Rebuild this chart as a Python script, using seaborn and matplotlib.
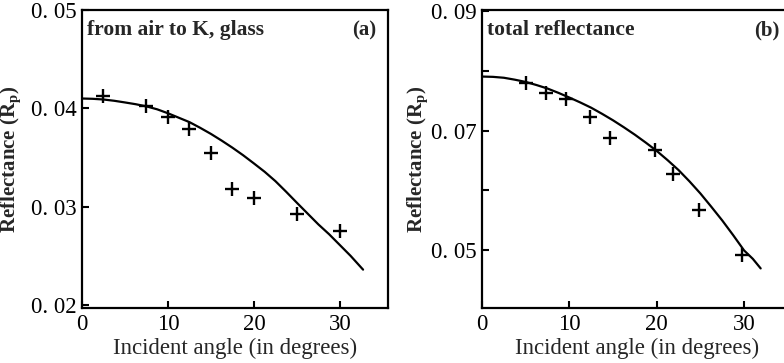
import numpy as np
import pandas as pd
import matplotlib
matplotlib.use("Agg")
import matplotlib.pyplot as plt
import seaborn as sns

# ---- data ----
a_pts_x = [2.5, 7.5, 10, 12.5, 15, 17.5, 20, 25, 30]
a_pts_y = [0.0413, 0.0402, 0.0391, 0.0379, 0.0355, 0.0318, 0.0309, 0.0293, 0.0275]
a_curve_x = [0, 1.25, 2.5, 3.75, 5, 6.25, 7.5, 8.75, 10, 11.25, 12.5, 13.75, 15, 16.25,
             17.5, 18.75, 20, 21.25, 22.5, 23.75, 25, 26.25, 27.5, 28.75, 30, 31.25, 32.7]
a_curve_y = [0.0410, 0.04097, 0.0409, 0.04077, 0.0406, 0.04042, 0.0402, 0.0399, 0.0395,
             0.03905, 0.0386, 0.03802, 0.0374, 0.03672, 0.0360, 0.03523, 0.0344, 0.03355,
             0.0326, 0.03152, 0.0304, 0.0293, 0.0282, 0.0272, 0.0261, 0.0250, 0.0236]

b_pts_x = [5, 7.3, 9.6, 12.4, 14.7, 19.8, 21.9, 24.8, 29.8]
b_pts_y = [0.0779, 0.0762, 0.0752, 0.0722, 0.0687, 0.0667, 0.0628, 0.0567, 0.0493]
b_curve_x = [0, 1.25, 2.5, 3.75, 5, 6.25, 7.5, 8.75, 10, 11.25, 12.5, 13.75, 15, 16.25,
             17.5, 18.75, 20, 21.25, 22.5, 23.75, 25, 26.25, 27.5, 28.75, 30, 31, 31.9]
b_curve_y = [0.0790, 0.07895, 0.0788, 0.07848, 0.0781, 0.07758, 0.0770, 0.07628, 0.0755,
             0.07468, 0.0738, 0.07278, 0.0717, 0.07053, 0.0693, 0.06798, 0.0666, 0.06505,
             0.0634, 0.06152, 0.0595, 0.05728, 0.0550, 0.05255, 0.0500, 0.0486, 0.0470]

x_ticks = [0, 10, 20, 30]
x_ticklabels = ["0", "10", "20", "30"]
a_yticks = [0.02, 0.03, 0.04, 0.05]
a_yticklabels = ["0. 02", "0. 03", "0. 04", "0. 05"]
b_yticks = [0.05, 0.06, 0.07, 0.08, 0.09]
b_yticklabels = ["0. 05", "", "0. 07", "", "0. 09"]

x_label = "Incident angle (in degrees)"
y_label = r"Reflectance (R$_{\mathbf{p}}$)"
a_title = "from air to K, glass"
b_title = "total reflectance"

sns.set_style("ticks")
plt.rcParams["font.family"] = ["Liberation Serif", "DejaVu Serif"]
plt.rcParams["mathtext.fontset"] = "custom"
plt.rcParams["mathtext.rm"] = "Liberation Serif"
plt.rcParams["mathtext.bf"] = "Liberation Serif:bold"

W, H = 784, 363
fig = plt.figure(figsize=(W / 100, H / 100), dpi=100)

def box(l, t, r, b):
    return [l / W, 1 - b / H, (r - l) / W, (b - t) / H]

ax1 = fig.add_axes(box(82, 10, 388, 308))
ax2 = fig.add_axes(box(482, 10, 793, 308))

panels = [
    (ax1, a_pts_x, a_pts_y, a_curve_x, a_curve_y, a_yticks, a_yticklabels, (0.0197, 0.0500),
     a_title, "(a)", -0.19, 0.96),
    (ax2, b_pts_x, b_pts_y, b_curve_x, b_curve_y, b_yticks, b_yticklabels, (0.0404, 0.0901),
     b_title, "(b)", -0.164, 0.955),
]

for ax, px, py, cx, cy, yt, ytl, ylim, title, tag, ylx, tagx in panels:
    sns.lineplot(x=cx, y=cy, ax=ax, color="black", lw=1.6)
    sns.scatterplot(x=px, y=py, ax=ax, marker="+", s=95, color="black", linewidth=1.7)
    ax.set_xlim(0, 35.6)
    ax.set_ylim(*ylim)
    ax.set_xticks(x_ticks)
    ax.set_xticklabels(x_ticklabels)
    ax.set_yticks(yt)
    ax.set_yticklabels(ytl)
    ax.tick_params(direction="in", length=5, width=1.5, labelsize=16.5, pad=4, colors="black")
    for s in ax.spines.values():
        s.set_linewidth(1.6)
        s.set_color("black")
    ax.set_xlabel(x_label, fontsize=16.5)
    ax.set_ylabel(y_label, fontsize=15, fontweight="bold")
    ax.xaxis.set_label_coords(0.5, -0.10)
    ax.yaxis.set_label_coords(ylx, 0.5)
    ax.text(0.015, 0.965, title, transform=ax.transAxes, fontsize=15.5, fontweight="bold",
            va="top", ha="left")
    ax.text(tagx, 0.965, tag, transform=ax.transAxes, fontsize=15, fontweight="bold",
            va="top", ha="right")

fig.savefig("out.png", dpi=100)
